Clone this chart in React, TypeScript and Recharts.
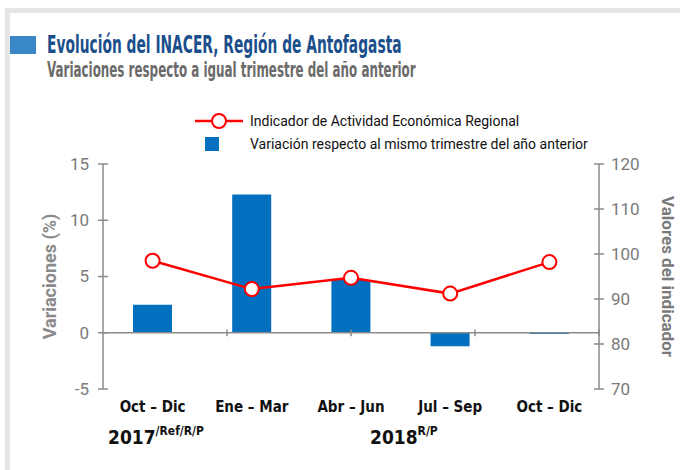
import { ComposedChart, Bar, Line, XAxis, YAxis, ReferenceLine } from "recharts";

const quarters = ["Oct – Dic", "Ene – Mar", "Abr – Jun", "Jul – Sep", "Oct – Dic"];
const variation = [2.5, 12.3, 4.7, -1.2, -0.1];
const indicator = [98.5, 92.2, 94.7, 91.2, 98.2];
const leftTicks = [-5, 0, 5, 10, 15];
const rightTicks = [70, 80, 90, 100, 110, 120];
const quarterBounds = [1, 2, 3, 4];
const years = [
  { label: "2017", sup: "/Ref/R/P", left: 108 },
  { label: "2018", sup: "R/P", left: 370 },
];

const data = quarters.map((q, i) => ({
  quarter: q,
  variation: variation[i],
  indicator: indicator[i],
}));

const NARROW = "'Liberation Sans Narrow', 'DejaVu Sans Condensed', sans-serif";
const GREY = "#8a8a8a";
const TICK_FONT = "Roboto, sans-serif";

// y-axis tick: text plus the half of the tick mark that sits inside the plot
function makeYTick(side: "left" | "right", tickSize: number, tickMargin: number) {
  return (props: any) => {
    const { x, y, payload } = props;
    const dir = side === "left" ? 1 : -1;
    const ax = x + dir * (tickSize + tickMargin);
    return (
      <g>
        <line x1={ax} x2={ax + dir * 5} y1={y} y2={y} stroke={GREY} strokeWidth={1.5} />
        <text
          x={x}
          y={y}
          dy="0.35em"
          textAnchor={side === "left" ? "end" : "start"}
          fill="#7a7a7a"
          fontSize={17}
          fontFamily={TICK_FONT}
        >
          {payload.value}
        </text>
      </g>
    );
  };
}

export default function App() {
  return (
    <div style={{ position: "absolute", left: 0, top: 0, width: 680, height: 470, background: "#fff", overflow: "hidden" }}>
      {/* card frame */}
      <div style={{ position: "absolute", left: 5, top: 8, width: 700, height: 480, borderTop: "5px solid #e6e6e6", borderLeft: "5px solid #e6e6e6" }} />
      <div style={{ position: "absolute", left: 10, top: 36, width: 26, height: 18, background: "#3a87c8" }} />
      <div
        style={{
          position: "absolute",
          left: 47,
          top: 31,
          fontFamily: NARROW,
          fontWeight: 700,
          fontSize: 24,
          color: "#1b4f8c",
          whiteSpace: "nowrap",
          transform: "scaleX(0.64)",
          transformOrigin: "left top",
        }}
      >
        Evolución del INACER, Región de Antofagasta
      </div>
      <div
        style={{
          position: "absolute",
          left: 47,
          top: 58,
          fontFamily: NARROW,
          fontWeight: 700,
          fontSize: 21,
          color: "#6b6b6b",
          whiteSpace: "nowrap",
          transform: "scaleX(0.63)",
          transformOrigin: "left top",
        }}
      >
        Variaciones respecto a igual trimestre del año anterior
      </div>

      {/* legend */}
      <div style={{ position: "absolute", left: 193, top: 110, fontFamily: "Roboto, sans-serif", fontSize: 14, color: "#111" }}>
        <div style={{ display: "flex", alignItems: "center", height: 22 }}>
          <svg width={52} height={18}>
            <line x1={2} y1={9} x2={50} y2={9} stroke="#ff0000" strokeWidth={2.5} />
            <circle cx={26} cy={9} r={7} fill="#fff" stroke="#ff0000" strokeWidth={2} />
          </svg>
          <span style={{ marginLeft: 5 }}>Indicador de Actividad Económica Regional</span>
        </div>
        <div style={{ display: "flex", alignItems: "center", height: 24 }}>
          <svg width={52} height={18}>
            <rect x={12} y={2} width={14} height={14} fill="#0270bf" />
          </svg>
          <span style={{ marginLeft: 5 }}>Variación respecto al mismo trimestre del año anterior</span>
        </div>
      </div>

      <ComposedChart
        width={680}
        height={470}
        data={data}
        margin={{ top: 164, right: 21, left: 43, bottom: 31 }}
        style={{ position: "absolute", left: 0, top: 0 }}
      >
        <XAxis
          dataKey="quarter"
          axisLine={false}
          tickLine={false}
          height={50}
          tickMargin={6}
          tick={{ fill: "#111", fontSize: 15, fontFamily: NARROW, fontWeight: 700 }}
        />
        <XAxis xAxisId="bounds" type="number" domain={[0, 5]} hide />
        <YAxis
          yAxisId="left"
          orientation="left"
          width={60}
          domain={[-5, 15]}
          ticks={leftTicks}
          stroke={GREY}
          strokeWidth={1.5}
          tickSize={5}
          tickMargin={9}
          tick={makeYTick("left", 5, 9)}
          label={{
            value: "Variaciones (%)",
            angle: -90,
            position: "insideLeft",
            offset: 0,
            textAnchor: "middle",
            fill: "#8a8a8a",
            fontSize: 18,
            fontWeight: 700,
            fontFamily: "Roboto, sans-serif",
            dx: 7,
          }}
        />
        <YAxis
          yAxisId="right"
          orientation="right"
          width={60}
          domain={[70, 120]}
          ticks={rightTicks}
          stroke={GREY}
          strokeWidth={1.5}
          tickSize={5}
          tickMargin={7}
          tick={makeYTick("right", 5, 7)}
          label={{
            value: "Valores del indicador",
            angle: 90,
            position: "insideRight",
            offset: 0,
            textAnchor: "middle",
            fill: "#7a7a7a",
            fontSize: 17,
            fontWeight: 700,
            fontFamily: "Roboto, sans-serif",
            dx: 9,
          }}
        />
        <Bar yAxisId="left" dataKey="variation" fill="#0270bf" barSize={39} isAnimationActive={false} />
        <ReferenceLine yAxisId="left" y={0} stroke={GREY} strokeWidth={1.5} />
        {quarterBounds.map((b) => (
          <ReferenceLine
            key={b}
            xAxisId="bounds"
            yAxisId="left"
            segment={[
              { x: b, y: -0.3 },
              { x: b, y: 0.3 },
            ]}
            stroke={GREY}
            strokeWidth={1.5}
          />
        ))}
        <Line
          yAxisId="right"
          dataKey="indicator"
          type="linear"
          stroke="#ff0000"
          strokeWidth={2.5}
          dot={{ r: 7, fill: "#fff", stroke: "#ff0000", strokeWidth: 2 }}
          isAnimationActive={false}
        />
      </ComposedChart>

      {years.map((y) => (
        <div
          key={y.label}
          style={{ position: "absolute", left: y.left, top: 426, fontFamily: NARROW, fontWeight: 700, fontSize: 19, color: "#111", whiteSpace: "nowrap" }}
        >
          {y.label}
          <sup style={{ fontSize: 12, verticalAlign: "top", position: "relative", top: -2 }}>{y.sup}</sup>
        </div>
      ))}
    </div>
  );
}
